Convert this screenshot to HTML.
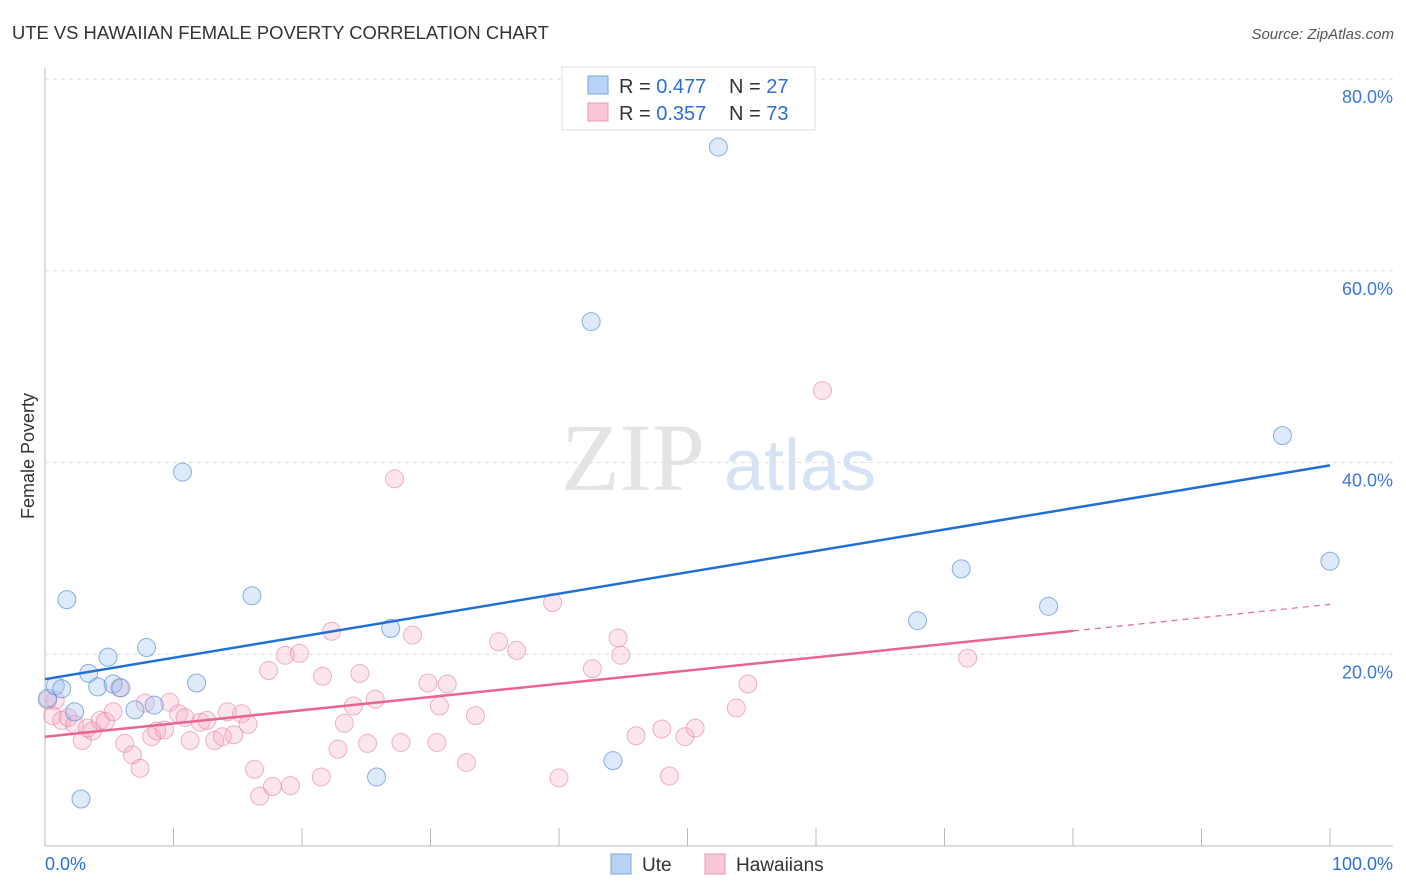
<!DOCTYPE html>
<html><head><meta charset="utf-8"><style>
body{margin:0;background:#fff;font-family:"Liberation Sans",sans-serif;}
svg{display:block}
</style></head><body>
<svg id="c" width="1406" height="892" xmlns="http://www.w3.org/2000/svg">
<text x="12" y="39" font-size="18.4" fill="#333">UTE VS HAWAIIAN FEMALE POVERTY CORRELATION CHART</text>
<text x="1394" y="39" font-size="15" fill="#555" font-style="italic" text-anchor="end">Source: ZipAtlas.com</text>
<text x="633" y="490" font-size="96" fill="#e4e4e4" font-family="Liberation Serif" text-anchor="middle">ZIP</text>
<text x="800" y="490" font-size="72" fill="#d5e3f5" text-anchor="middle">atlas</text>
<text transform="translate(34,456) rotate(-90)" font-size="18" fill="#333" text-anchor="middle">Female Poverty</text>
<g id="grid"></g><g id="pts"></g><g id="lines"></g>
<g>
<rect x="562" y="67" width="253" height="63" fill="#fff" stroke="#ddd"/>
<rect x="588" y="76" width="20" height="18" fill="#b8d3f5" stroke="#7aa7e0"/>
<rect x="588" y="103" width="20" height="18" fill="#f9c6d5" stroke="#ea9ab4"/>
<text x="619" y="93" font-size="20" fill="#333">R = <tspan fill="#2b6fd6">0.477</tspan></text>
<text x="729" y="93" font-size="20" fill="#333">N = <tspan fill="#2b6fd6">27</tspan></text>
<text x="619" y="120" font-size="20" fill="#333">R = <tspan fill="#2b6fd6">0.357</tspan></text>
<text x="729" y="120" font-size="20" fill="#333">N = <tspan fill="#2b6fd6">73</tspan></text>
</g>
<g>
<rect x="611" y="854" width="20" height="20" fill="#b8d3f5" stroke="#7aa7e0"/>
<text x="642" y="871" font-size="19" fill="#333">Ute</text>
<rect x="705" y="854" width="20" height="20" fill="#f9c6d5" stroke="#ea9ab4"/>
<text x="736" y="871" font-size="19" fill="#333">Hawaiians</text>
</g>
<text x="45" y="870" font-size="18" fill="#2b6fd6">0.0%</text>
<text x="1393" y="870" font-size="18" fill="#2b6fd6" text-anchor="end">100.0%</text>
</svg>
<script>
const yTicks=[20,40,60,80];
const uteX=[0.2,0.8,1.3,1.7,2.3,2.8,3.4,4.1,4.9,5.3,5.9,7.0,7.9,8.5,10.7,11.8,16.1,25.8,26.9,42.5,44.2,52.4,67.9,71.3,78.1,96.3,100];
const uteY=[15.4,16.7,16.4,25.7,14.0,4.9,18.0,16.6,19.7,16.9,16.5,14.2,20.7,14.7,39.0,17.0,26.1,7.2,22.7,54.7,8.9,72.9,23.5,28.9,25.0,42.8,29.7];
const hawX=[0.2,0.6,0.8,1.3,1.8,2.3,2.9,3.3,3.7,4.3,4.7,5.3,5.8,6.2,6.8,7.4,7.8,8.3,8.7,9.3,9.7,10.4,10.9,11.3,12.1,12.6,13.2,13.8,14.2,14.7,15.3,15.8,16.3,16.7,17.4,17.7,18.7,19.1,19.8,21.5,21.6,22.3,22.8,23.3,24.0,24.5,25.1,25.7,27.2,27.7,28.6,29.8,30.5,30.7,31.3,32.8,33.5,35.3,36.7,39.5,40.0,42.6,44.6,44.8,46.0,48.0,48.6,49.8,50.6,53.8,54.7,60.5,71.8];
const hawY=[15.2,13.6,15.2,13.1,13.4,12.7,11.0,12.3,12.0,13.1,13.0,14.0,16.5,10.7,9.5,8.1,14.9,11.4,12.0,12.1,15.0,13.8,13.4,11.0,12.9,13.1,11.0,11.4,14.0,11.6,13.8,12.7,8.0,5.2,18.3,6.2,19.9,6.3,20.1,7.2,17.7,22.4,10.1,12.8,14.6,18.0,10.7,15.3,38.3,10.8,22.0,17.0,10.8,14.6,16.9,8.7,13.6,21.3,20.4,25.4,7.1,18.5,21.7,19.9,11.5,12.2,7.3,11.4,12.3,14.4,16.9,47.5,19.6];
const uteLine=[17.4,39.7];
const hawLine=[11.4,25.2];
const NS="http://www.w3.org/2000/svg";
const sx=v=>45+v*12.85, sy=v=>846-v*9.5875;
function mk(t,a,p){const e=document.createElementNS(NS,t);for(const k in a)e.setAttribute(k,a[k]);p.appendChild(e);return e;}
const grid=document.getElementById('grid');
mk('line',{x1:45,y1:68,x2:45,y2:846,stroke:'#bbb'},grid);
mk('line',{x1:45,y1:846,x2:1393,y2:846,stroke:'#bbb'},grid);
for(let i=1;i<=10;i++){const l=mk('line',{x1:sx(i*10),y1:828,x2:sx(i*10),y2:846,stroke:'#bbb'},grid);

}
yTicks.forEach(t=>{const g=mk('line',{x1:45,y1:sy(t),x2:1393,y2:sy(t),stroke:'#ddd','stroke-dasharray':'4 4'},grid);


const tx=mk('text',{x:1393,y:sy(t)+24,'font-size':18,fill:'#3b7ad8','text-anchor':'end'},grid);tx.textContent=t.toFixed(1)+'%';

});
const pts=document.getElementById('pts');
hawX.forEach((x,i)=>{const c=mk('circle',{cx:sx(x),cy:sy(hawY[i]),r:9,fill:'rgba(245,170,195,0.3)',stroke:'rgba(230,130,165,0.6)','stroke-width':1},pts);

});
uteX.forEach((x,i)=>{const c=mk('circle',{cx:sx(x),cy:sy(uteY[i]),r:9,fill:'rgba(160,195,240,0.35)',stroke:'rgba(80,135,215,0.65)','stroke-width':1},pts);

});
const ln=document.getElementById('lines');
const u=mk('line',{x1:sx(0),y1:sy(uteLine[0]),x2:sx(100),y2:sy(uteLine[1]),stroke:'#1f6fd6','stroke-width':2.5},ln);


const hy=x=>hawLine[0]+(hawLine[1]-hawLine[0])*x/100;
const h=mk('line',{x1:sx(0),y1:sy(hy(0)),x2:sx(80),y2:sy(hy(80)),stroke:'#e8658f','stroke-width':2.5},ln);


const hd=mk('line',{x1:sx(80),y1:sy(hy(80)),x2:sx(100),y2:sy(hy(100)),stroke:'#e8658f','stroke-width':1.2,'stroke-dasharray':'6 5'},ln);


</script>
</body></html>
